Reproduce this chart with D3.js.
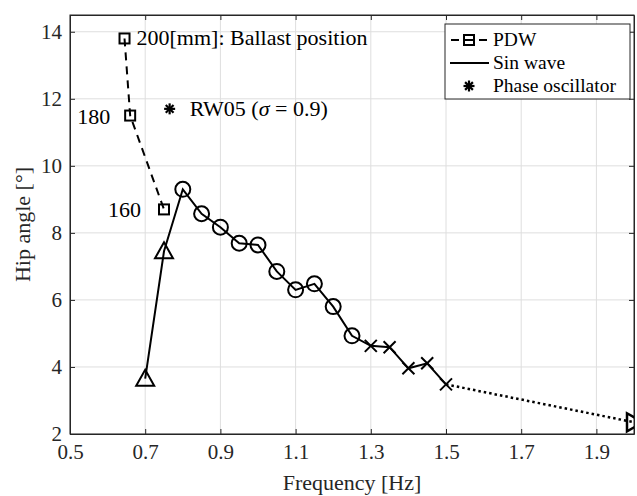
<!DOCTYPE html>
<html>
<head>
<meta charset="utf-8">
<script src="https://cdn.jsdelivr.net/npm/d3@7"></script>
<style>
  body { margin: 0; background: #fff; }
  svg, svg text { font-family: "Liberation Serif", "Times New Roman", serif; }
</style>
</head>
<body>
<div id="chart"></div>
<script>
// Chart size and margins
const width = 637;
const height = 496;
const margin = { top: 15, right: 3, bottom: 62, left: 70 };

// PDW (ballast position sweep)
const pdwFreq = [0.645, 0.66, 0.75];
const pdwAngle = [13.8, 11.5, 8.7];
const pdwLabels = ["200[mm]: Ballast position", "180", "160"];

// Sin wave series
const triFreq = [0.7, 0.75];
const triAngle = [3.65, 7.45];
const circFreq = [0.8, 0.85, 0.9, 0.95, 1.0, 1.05, 1.1, 1.15, 1.2, 1.25];
const circAngle = [9.3, 8.57, 8.17, 7.69, 7.64, 6.85, 6.3, 6.48, 5.8, 4.93];
const crossFreq = [1.3, 1.35, 1.4, 1.45, 1.5];
const crossAngle = [4.63, 4.59, 3.96, 4.11, 3.48];
const endFreq = [1.5, 2.0];
const endAngle = [3.48, 2.35];

// Phase oscillator
const phaseFreq = [0.765];
const phaseAngle = [11.7];
const phaseLabel = "RW05 (";

// Axis ticks
const xTicks = [0.5, 0.7, 0.9, 1.1, 1.3, 1.5, 1.7, 1.9];
const yTicks = [2, 4, 6, 8, 10, 12, 14];

const legendNames = ["PDW", "Sin wave", "Phase oscillator"];

const serif = "'Liberation Serif', 'Times New Roman', serif";

const xScale = d3.scaleLinear()
    .domain([0.5, 2.0])
    .range([margin.left, width - margin.right]);

const yScale = d3.scaleLinear()
    .domain([2, 14.5])
    .range([height - margin.bottom, margin.top]);

const svg = d3.select("#chart")
    .append("svg")
    .attr("width", width)
    .attr("height", height)
    .attr("font-family", serif);

const plotW = width - margin.left - margin.right;
const plotH = height - margin.top - margin.bottom;

svg.append("clipPath")
    .attr("id", "clip")
    .append("rect")
    .attr("x", margin.left)
    .attr("y", margin.top)
    .attr("width", plotW)
    .attr("height", plotH);

// Grid lines
svg.append("g")
    .selectAll("line")
    .data(xTicks)
    .enter()
    .append("line")
    .attr("x1", d => xScale(d)).attr("x2", d => xScale(d))
    .attr("y1", margin.top).attr("y2", height - margin.bottom)
    .attr("stroke", "#dedede").attr("stroke-width", 1);

svg.append("g")
    .selectAll("line")
    .data(yTicks)
    .enter()
    .append("line")
    .attr("x1", margin.left).attr("x2", width - margin.right)
    .attr("y1", d => yScale(d)).attr("y2", d => yScale(d))
    .attr("stroke", "#dedede").attr("stroke-width", 1);

// Axes with inward ticks
const axisColor = "#262626";
const fmt = d3.format(".1f");

const xAxis = svg.append("g")
    .attr("transform", `translate(0, ${height - margin.bottom})`)
    .call(d3.axisBottom(xScale).tickValues(xTicks).tickSizeInner(-5).tickSizeOuter(0).tickPadding(10).tickFormat(fmt));

const xAxisTop = svg.append("g")
    .attr("transform", `translate(0, ${margin.top})`)
    .call(d3.axisTop(xScale).tickValues(xTicks).tickSizeInner(-5).tickSizeOuter(0).tickFormat(""));

const yAxis = svg.append("g")
    .attr("transform", `translate(${margin.left}, 0)`)
    .call(d3.axisLeft(yScale).tickValues(yTicks).tickSizeInner(-5).tickSizeOuter(0).tickPadding(8));

const yAxisRight = svg.append("g")
    .attr("transform", `translate(${width - margin.right}, 0)`)
    .call(d3.axisRight(yScale).tickValues(yTicks).tickSizeInner(-5).tickSizeOuter(0).tickFormat(""));

[xAxis, xAxisTop, yAxis, yAxisRight].forEach(g => {
    g.attr("font-family", serif).attr("font-size", 21);
    g.select(".domain").attr("stroke", axisColor).attr("stroke-width", 1);
    g.selectAll(".tick line").attr("stroke", axisColor);
    g.selectAll(".tick text").attr("fill", "#262626");
});

svg.append("rect")
    .attr("x", margin.left).attr("y", margin.top)
    .attr("width", plotW).attr("height", plotH)
    .attr("fill", "none").attr("stroke", axisColor).attr("stroke-width", 1);

// Axis titles
svg.append("text")
    .attr("x", xScale(1.25))
    .attr("y", 490)
    .attr("text-anchor", "middle")
    .attr("font-size", 22)
    .attr("fill", "#262626")
    .text("Frequency [Hz]");

svg.append("text")
    .attr("transform", `translate(30, ${(margin.top + height - margin.bottom) / 2}) rotate(-90)`)
    .attr("text-anchor", "middle")
    .attr("font-size", 22)
    .attr("fill", "#262626")
    .text("Hip angle [°]");

const toPts = (xs, ys) => xs.map((x, i) => [xScale(x), yScale(ys[i])]);
const line = d3.line();
const plot = svg.append("g").attr("clip-path", "url(#clip)");

// PDW dashed line
plot.append("path")
    .attr("d", line(toPts(pdwFreq, pdwAngle)))
    .attr("fill", "none").attr("stroke", "#000").attr("stroke-width", 2)
    .attr("stroke-dasharray", "8,6");

// Sin wave solid line
const solidPts = toPts(triFreq.concat(circFreq, crossFreq), triAngle.concat(circAngle, crossAngle));
plot.append("path")
    .attr("d", line(solidPts))
    .attr("fill", "none").attr("stroke", "#000").attr("stroke-width", 2);

// dotted extension
plot.append("path")
    .attr("d", line(toPts(endFreq, endAngle)))
    .attr("fill", "none").attr("stroke", "#000").attr("stroke-width", 2.5)
    .attr("stroke-dasharray", "2.5,3");

// Markers
function square(g, x, y) {
    g.append("rect")
        .attr("x", x - 5).attr("y", y - 5)
        .attr("width", 10).attr("height", 10)
        .attr("fill", "none").attr("stroke", "#000").attr("stroke-width", 2);
}
function asterisk(g, x, y) {
    [0, 45, 90, 135].forEach(a => {
        const r = 5.5, t = a * Math.PI / 180;
        g.append("line")
            .attr("x1", x - r * Math.cos(t)).attr("y1", y - r * Math.sin(t))
            .attr("x2", x + r * Math.cos(t)).attr("y2", y + r * Math.sin(t))
            .attr("stroke", "#000").attr("stroke-width", 2.2);
    });
}

toPts(pdwFreq, pdwAngle).forEach(p => square(plot, p[0], p[1]));

plot.selectAll(".tri")
    .data(toPts(triFreq, triAngle))
    .enter()
    .append("path")
    .attr("d", p => `M${p[0]},${p[1] - 9}L${p[0] + 9},${p[1] + 7}L${p[0] - 9},${p[1] + 7}Z`)
    .attr("fill", "none").attr("stroke", "#000").attr("stroke-width", 2);

plot.selectAll(".circ")
    .data(toPts(circFreq, circAngle))
    .enter()
    .append("circle")
    .attr("cx", p => p[0]).attr("cy", p => p[1]).attr("r", 7.5)
    .attr("fill", "none").attr("stroke", "#000").attr("stroke-width", 2);

plot.selectAll(".cross")
    .data(toPts(crossFreq, crossAngle))
    .enter()
    .append("path")
    .attr("d", p => `M${p[0] - 6},${p[1] - 6}L${p[0] + 6},${p[1] + 6}M${p[0] + 6},${p[1] - 6}L${p[0] - 6},${p[1] + 6}`)
    .attr("fill", "none").attr("stroke", "#000").attr("stroke-width", 2);

// right-pointing triangle at the end
const endPt = [xScale(endFreq[1]), yScale(endAngle[1])];
plot.append("path")
    .attr("d", `M${endPt[0] + 9},${endPt[1]}L${endPt[0] - 7},${endPt[1] - 9}L${endPt[0] - 7},${endPt[1] + 9}Z`)
    .attr("fill", "none").attr("stroke", "#000").attr("stroke-width", 2.5);

toPts(phaseFreq, phaseAngle).forEach(p => asterisk(plot, p[0], p[1]));

// Annotations
const p0 = toPts(pdwFreq, pdwAngle);
svg.append("text")
    .attr("x", p0[0][0] + 12).attr("y", p0[0][1] + 7)
    .attr("font-size", 22).attr("fill", "#000")
    .text(pdwLabels[0]);
svg.append("text")
    .attr("x", p0[1][0] - 20).attr("y", p0[1][1] + 8)
    .attr("text-anchor", "end")
    .attr("font-size", 22).attr("fill", "#000")
    .text(pdwLabels[1]);
svg.append("text")
    .attr("x", p0[2][0] - 23).attr("y", p0[2][1] + 8)
    .attr("text-anchor", "end")
    .attr("font-size", 22).attr("fill", "#000")
    .text(pdwLabels[2]);

const ph = toPts(phaseFreq, phaseAngle)[0];
const rw = svg.append("text")
    .attr("x", ph[0] + 20).attr("y", ph[1] + 7)
    .attr("font-size", 22).attr("fill", "#000");
rw.append("tspan").text(phaseLabel);
rw.append("tspan").style("font-style", "italic").text("σ");
rw.append("tspan").text(" = 0.9)");

// Legend
const lg = svg.append("g");
lg.append("rect")
    .attr("x", 445).attr("y", 24).attr("width", 185).attr("height", 75)
    .attr("fill", "#fff").attr("stroke", "#262626").attr("stroke-width", 1);

const rowY = [40, 63, 86];
// PDW row
lg.append("line").attr("x1", 450).attr("x2", 488).attr("y1", rowY[0]).attr("y2", rowY[0])
    .attr("stroke", "#000").attr("stroke-width", 2).attr("stroke-dasharray", "8,6")
    .attr("stroke-dashoffset", -1);
square(lg, 469, rowY[0]);
// Sin wave row
lg.append("line").attr("x1", 450).attr("x2", 489).attr("y1", rowY[1]).attr("y2", rowY[1])
    .attr("stroke", "#000").attr("stroke-width", 2);
// Phase oscillator row
asterisk(lg, 469, rowY[2]);

lg.selectAll(".lt")
    .data(legendNames)
    .enter()
    .append("text")
    .attr("x", 493)
    .attr("y", (d, i) => rowY[i] + 6)
    .attr("font-size", 19.5)
    .attr("fill", "#000")
    .text(d => d);
</script>
</body>
</html>
